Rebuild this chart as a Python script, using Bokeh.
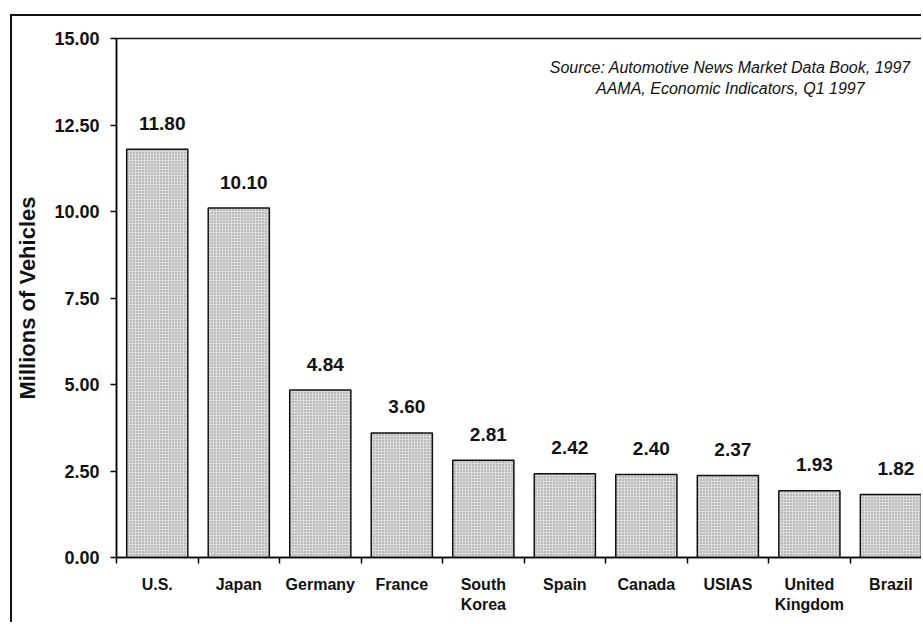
from bokeh.plotting import figure
from bokeh.models import ColumnDataSource, FixedTicker, Label, NumeralTickFormatter, Range1d
from bokeh.core.properties import value
from bokeh.embed import file_html
from bokeh.resources import INLINE

# Motor vehicle production by country (millions of vehicles)
countries = ["U.S.", "Japan", "Germany", "France", "South\nKorea",
             "Spain", "Canada", "USIAS", "United\nKingdom", "Brazil"]
vehicles = [11.80, 10.10, 4.84, 3.60, 2.81, 2.42, 2.40, 2.37, 1.93, 1.82]
y_ticks = [0.0, 2.5, 5.0, 7.5, 10.0, 12.5, 15.0]
source_lines = ["Source: Automotive News Market Data Book, 1997",
                "AAMA, Economic Indicators, Q1 1997"]

FONT = "Liberation Sans"

centers = [i + 0.5 for i in range(len(countries))]
src = ColumnDataSource(dict(
    x=centers,
    top=vehicles,
    label=[f"{v:.2f}" for v in vehicles],
))

p = figure(width=911, height=608, output_backend="svg", toolbar_location=None,
           x_range=Range1d(0, 9.90), y_range=Range1d(0, 15),
           min_border_left=104, min_border_right=0,
           min_border_top=22, min_border_bottom=67)
p.styles = {"margin-left": "10px", "margin-top": "14px",
            "border-left": "2px solid #111", "border-top": "2px solid #111"}

p.vbar(x="x", top="top", width=0.75, bottom=0, source=src,
       fill_color="#dadada", line_color="#111111", line_width=1.5,
       hatch_pattern="dot", hatch_color="#8a8a8a", hatch_scale=3, hatch_weight=0.8)

p.text(x="x", y="top", text="label", source=src,
       text_font=value(FONT), text_font_style="bold", text_font_size="19px",
       text_align="center", text_baseline="alphabetic",
       x_offset=5, y_offset=-26, text_color="#111111")

# grid / frame
p.xgrid.grid_line_color = None
p.ygrid.grid_line_color = None
p.outline_line_color = "#111111"
p.outline_line_width = 1.5
p.background_fill_color = "white"

# y axis
p.yaxis.ticker = FixedTicker(ticks=y_ticks)
p.yaxis.formatter = NumeralTickFormatter(format="0.00")
p.yaxis.axis_label = "Millions of Vehicles"
p.yaxis.axis_label_text_font = FONT
p.yaxis.axis_label_text_font_style = "bold"
p.yaxis.axis_label_text_font_size = "22px"
p.yaxis.axis_label_text_color = "#111111"
p.yaxis.axis_label_standoff = 11
p.yaxis.major_label_text_font = FONT
p.yaxis.major_label_text_font_style = "bold"
p.yaxis.major_label_text_font_size = "18px"
p.yaxis.major_label_text_color = "#111111"
p.yaxis.major_label_standoff = 11
p.yaxis.major_tick_in = 0
p.yaxis.major_tick_out = 6
p.yaxis.minor_tick_line_color = None
p.yaxis.axis_line_width = 1.5
p.yaxis.major_tick_line_width = 1.5

# x axis: labels at bar centres, tick marks between bars
p.xaxis.ticker = FixedTicker(ticks=centers, minor_ticks=list(range(len(countries) + 1)))
p.xaxis.major_label_overrides = {c: name for c, name in zip(centers, countries)}
p.xaxis.major_tick_line_color = None
p.xaxis.major_tick_in = 0
p.xaxis.major_tick_out = 0
p.xaxis.minor_tick_in = 0
p.xaxis.minor_tick_out = 6
p.xaxis.minor_tick_line_width = 1.5
p.xaxis.axis_line_width = 1.5
p.xaxis.major_label_standoff = 12
p.xaxis.major_label_text_font = FONT
p.xaxis.major_label_text_font_style = "bold"
p.xaxis.major_label_text_font_size = "16px"
p.xaxis.major_label_text_color = "#111111"

# source note, upper right
for i, line in enumerate(source_lines):
    p.add_layout(Label(x=7.53, y=14.17 - 0.61 * i,
                       text=line, text_font=FONT, text_font_style="italic",
                       text_font_size="16px", text_align="center",
                       text_baseline="alphabetic", text_color="#111111"))

open("out.html", "w").write(file_html(p, INLINE))
